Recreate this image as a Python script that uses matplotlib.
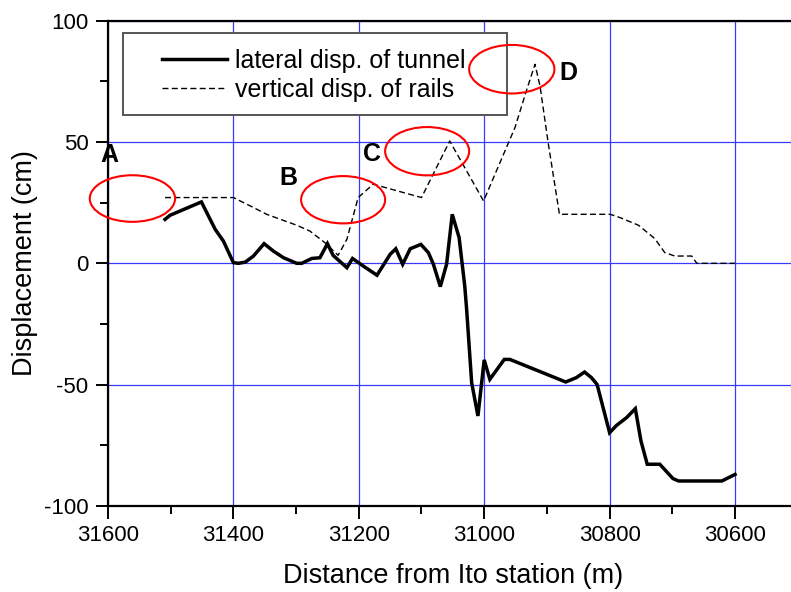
import matplotlib
matplotlib.use("Agg")
import matplotlib.pyplot as plt
from matplotlib.patches import Ellipse, Rectangle
from matplotlib.ticker import MultipleLocator

plt.rcParams['font.family'] = ['Liberation Sans', 'DejaVu Sans']
plt.rcParams['axes.unicode_minus'] = False

# lateral displacement of tunnel
lat_x = [31509, 31501, 31451, 31429, 31416, 31400, 31392, 31381, 31368, 31351,
         31336, 31320, 31299, 31291, 31275, 31262, 31250, 31241, 31219, 31210,
         31193, 31171, 31150, 31141, 31130, 31118, 31101, 31089, 31081, 31070,
         31060, 31051, 31040, 31031, 31028, 31020, 31010, 31000, 30991, 30968,
         30959, 30870, 30853, 30840, 30829, 30820, 30800, 30789, 30773, 30759,
         30750, 30740, 30720, 30699, 30690, 30621, 30600]
lat_y = [18.1, 19.8, 25.3, 14.0, 9.2, 0.3, 0.0, 0.5, 3.0, 8.1,
         5.0, 2.3, 0.0, 0.0, 2.0, 2.3, 8.1, 3.3, -1.8, 2.0,
         -1.1, -4.9, 3.7, 6.0, -0.4, 6.0, 7.8, 4.4, -0.4, -9.6,
         -0.4, 20.2, 10.6, -9.4, -19.0, -49.2, -62.9, -39.8, -47.8, -39.6,
         -39.6, -48.9, -47.1, -44.8, -47.1, -49.9, -69.8, -66.8, -63.6, -59.9,
         -73.2, -82.8, -82.8, -88.7, -89.7, -89.7, -87.0]

# vertical displacement of rails
ver_x = [31509, 31440, 31400, 31368, 31347, 31299, 31278, 31254, 31233, 31219,
         31201, 31177, 31100, 31055, 31001, 30951, 30932, 30919, 30911, 30898,
         30880, 30799, 30783, 30754, 30728, 30712, 30696, 30669, 30661, 30600]
ver_y = [27.1, 27.1, 27.1, 23.0, 20.2, 15.7, 13.3, 8.5, 3.3, 9.9,
         27.1, 32.6, 27.1, 50.4, 25.7, 55.9, 71.7, 82.0, 73.1, 49.7,
         20.2, 20.2, 18.8, 15.7, 10.2, 4.4, 3.0, 3.0, 0.0, 0.0]

# highlighted regions
mark_labels = ['A', 'B', 'C', 'D']
ell_x = [31561, 31225, 31091, 30956]
ell_y = [26.7, 26.2, 46.2, 80.0]
ell_w = [136, 134, 134, 136]
ell_h = [19.2, 19.5, 19.9, 20.0]
lab_x = [31598, 31312, 31179, 30866]
lab_y = [44.5, 35.3, 45.2, 78.3]

fig = plt.figure(figsize=(7.91, 5.92), dpi=100)
ax = fig.add_axes([0.1365, 0.1453, 0.872, 0.8198])

ax.plot(lat_x, lat_y, color='black', lw=2.5, solid_joinstyle='miter',
        label='lateral disp. of tunnel', zorder=3)
ax.plot(ver_x, ver_y, color='black', lw=1.0, ls=(0, (4.3, 2.4)),
        label='vertical disp. of rails', zorder=3)

ax.set_xlim(31600, 30500)
ax.set_ylim(-100, 100)
ax.xaxis.set_major_locator(MultipleLocator(200))
ax.xaxis.set_minor_locator(MultipleLocator(100))
ax.yaxis.set_major_locator(MultipleLocator(50))
ax.yaxis.set_minor_locator(MultipleLocator(25))
ax.grid(True, which='major', color='#3a3aff', lw=0.9)
ax.set_axisbelow(True)

ax.tick_params(which='both', direction='out', top=False, right=False,
               width=1.4, labelsize=16)
ax.tick_params(which='major', length=9, pad=5)
ax.tick_params(which='minor', length=5.5)
for s in ax.spines.values():
    s.set_linewidth(1.6)

ax.set_xlabel('Distance from Ito station (m)', fontsize=19.5, labelpad=12)
ax.set_ylabel('Displacement (cm)', fontsize=19.5, labelpad=4)

# legend frame
ax.add_patch(Rectangle((0.02175, 0.8057), 0.5567, 0.169, transform=ax.transAxes,
                       facecolor='white', edgecolor='#555555', lw=1.4, zorder=4.5))
leg = ax.legend(loc='upper left', bbox_to_anchor=(0.078, 0.942), borderaxespad=0,
                borderpad=0, frameon=False, fontsize=18, handlelength=2.6,
                handletextpad=0.33, labelspacing=0.2)
leg.set_zorder(5)

for lx, ly, ex, ey, w, h, t in zip(lab_x, lab_y, ell_x, ell_y, ell_w, ell_h, mark_labels):
    ax.add_patch(Ellipse((ex, ey), w, h, facecolor='none', edgecolor='red',
                         lw=1.5, zorder=6, clip_on=False))
    ax.text(lx, ly, t, fontsize=18, fontweight='bold', ha='center', va='center',
            zorder=6, clip_on=False)

fig.savefig('out.png', dpi=100)
